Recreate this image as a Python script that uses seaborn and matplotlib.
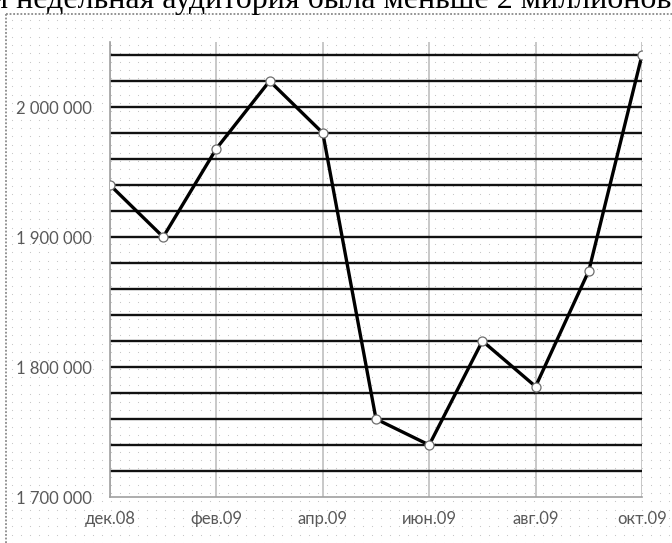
import numpy as np
import pandas as pd
import seaborn as sns
import matplotlib.pyplot as plt
from matplotlib.ticker import FixedLocator, FuncFormatter

# данные
months = ['дек.08', 'янв.09', 'фев.09', 'мар.09', 'апр.09', 'май.09',
          'июн.09', 'июл.09', 'авг.09', 'сен.09', 'окт.09']
audience = [1940000, 1900000, 1968000, 2020000, 1980000, 1760000,
            1740000, 1820000, 1785000, 1874000, 2040000]
title_text = 'и недельная аудитория была меньше 2 миллионов'

df = pd.DataFrame({'n': range(len(months)), 'month': months, 'audience': audience})

sns.set_style('white')
plt.rcParams['font.family'] = ['Lato', 'DejaVu Sans']

fig = plt.figure(figsize=(6.72, 5.43), dpi=100)

# фон: точечная сетка и пунктирная рамка
bg = fig.add_axes([0, 0, 1, 1], zorder=-1)
bg.set_xlim(0, 672)
bg.set_ylim(543, 0)
bg.axis('off')
gx, gy = np.meshgrid(np.arange(12, 672, 9), np.arange(20, 543, 8.3))
bg.scatter(gx.ravel(), gy.ravel(), s=0.7, c='#c4c4c4', linewidths=0)
bg.plot([6, 6], [14, 543], color='#8a8a8a', lw=1.3, ls=(0, (1, 1)))
bg.plot([6, 672], [14, 14], color='#8a8a8a', lw=1.3, ls=(0, (1, 1)))
# заголовок обрезан сверху, как на исходной картинке
bg.text(-9, 8, title_text, fontsize=23, family=['Liberation Serif'],
        va='baseline', ha='left', color='black')

ax = fig.add_axes([110 / 672, 1 - 497 / 543, 532 / 672, 455 / 543])
ax.patch.set_alpha(0)

sns.lineplot(data=df, x='n', y='audience', ax=ax, color='black', lw=2.4,
             marker='o', markersize=6.5, markerfacecolor='white',
             markeredgecolor='#6e6e6e', markeredgewidth=0.9, zorder=5)

ax.set_xlim(0, len(months) - 1)
ax.set_ylim(1700000, 2050000)

# ось Y
ax.yaxis.set_major_locator(FixedLocator(np.arange(1700000, 2000001, 100000)))
ax.yaxis.set_minor_locator(FixedLocator(np.arange(1720000, 2040001, 20000)))
ax.yaxis.remove_overlapping_locs = False
ax.yaxis.set_major_formatter(FuncFormatter(lambda v, p: f'{v:,.0f}'.replace(',', ' ')))
ax.grid(which='minor', axis='y', color='#111111', lw=1.7)
ax.tick_params(axis='y', which='minor', length=0)

# ось X
ax.set_xticks(range(0, len(months), 2))
ax.set_xticklabels(months[::2])
ax.grid(which='major', axis='x', color='#c8c8c8', lw=1.4)

ax.tick_params(axis='both', which='major', direction='out', length=5, width=1,
               color='#a0a0a0', labelsize=12, labelcolor='#595959')
ax.tick_params(axis='y', pad=8)
ax.tick_params(axis='x', pad=5)

for s in ['top', 'right']:
    ax.spines[s].set_visible(False)
for s in ['left', 'bottom']:
    ax.spines[s].set_color('#a0a0a0')
    ax.spines[s].set_linewidth(1.2)

ax.set_xlabel('')
ax.set_ylabel('')

fig.savefig('out.png', dpi=100)
plt.close()
